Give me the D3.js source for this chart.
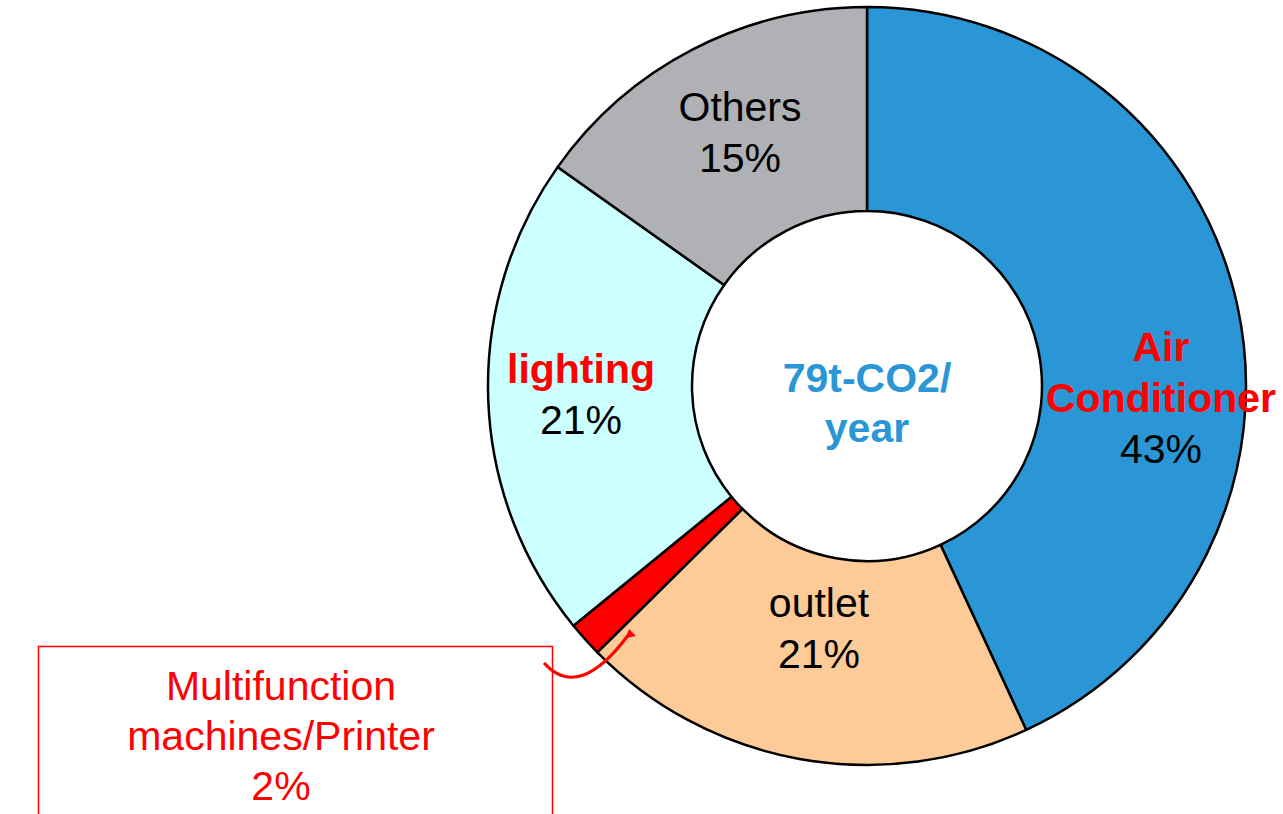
<!DOCTYPE html>
<html>
  <head>
    <meta charset="utf-8">
    <style>
    body { margin: 0; background: #fff; }
    #chart-area svg { display: block; }
    text { font-family: "Liberation Sans", Arial, sans-serif; font-size: 41px; }
    </style>
  </head>
  <body>
    <div id="chart-area"></div>

    <script src="https://d3js.org/d3.v7.min.js"></script>
    <script>
      // slice data, clockwise from 12 o'clock
      const categories = ["Air Conditioner", "outlet", "Multifunction machines/Printer", "lighting", "Others"];
      const shares = [43.1, 19.5, 1.5, 20.7, 15.2];
      const pctLabels = ["43%", "21%", "2%", "21%", "15%"];
      const colors = ["#2a96d5", "#fdcb98", "#ff0000", "#ccffff", "#b0b1b5"];

      const width = 1283;
      const height = 814;
      const cx = 867, cy = 386;
      const outerR = 379, innerR = 175;

      const svg = d3.select("#chart-area")
        .append("svg")
          .attr("width", width)
          .attr("height", height);

      const g = svg.append("g")
        .attr("transform", `translate(${cx}, ${cy})`);

      const pie = d3.pie().value(d => d).sort(null);
      const arc = d3.arc().innerRadius(innerR).outerRadius(outerR);

      g.selectAll("path")
        .data(pie(shares))
        .enter().append("path")
          .attr("d", arc)
          .attr("fill", (d, i) => colors[i])
          .attr("stroke", "#000")
          .attr("stroke-width", 2.5)
          .attr("stroke-linejoin", "round");

      // labels: lines as [text, colour, bold], position relative to centre
      const labelSpec = [
        { lines: [["Air", "red", true], ["Conditioner", "red", true], ["43%", "#000", false]], x: 294, y: -25 },
        { lines: [["outlet", "#000", false], ["21%", "#000", false]], x: -48, y: 231 },
        null,
        { lines: [["lighting", "red", true], ["21%", "#000", false]], x: -286, y: -3 },
        { lines: [["Others", "#000", false], ["15%", "#000", false]], x: -127, y: -265 }
      ];

      labelSpec.forEach((s, i) => {
        if (!s) return;
        const t = g.append("text").attr("text-anchor", "middle");
        s.lines.forEach((l, k) => {
          t.append("tspan")
            .attr("x", s.x)
            .attr("y", s.y + k * 51)
            .attr("fill", l[1])
            .attr("font-weight", l[2] ? "bold" : "normal")
            .text(k === s.lines.length - 1 ? pctLabels[i] : l[0]);
        });
      });

      // centre total
      const centre = g.append("text")
        .attr("text-anchor", "middle")
        .attr("fill", "#2a96d5")
        .attr("font-weight", "bold");
      centre.append("tspan").attr("x", 0).attr("y", 6).text("79t-CO2/");
      centre.append("tspan").attr("x", 0).attr("y", 56).text("year");

      // callout box for the small slice
      svg.append("rect")
        .attr("x", 38.5).attr("y", 646.5)
        .attr("width", 514).attr("height", 200)
        .attr("fill", "none")
        .attr("stroke", "red")
        .attr("stroke-width", 1.5);

      const box = svg.append("text")
        .attr("text-anchor", "middle")
        .attr("fill", "red");
      ["Multifunction", "machines/Printer", pctLabels[2]].forEach((l, k) => {
        box.append("tspan").attr("x", 281).attr("y", 700 + k * 50).text(l);
      });

      // curved pointer into the red slice
      svg.append("path")
        .attr("d", "M544,663 Q579,702 629,634")
        .attr("fill", "none")
        .attr("stroke", "red")
        .attr("stroke-width", 3);
      svg.append("path")
        .attr("d", "M629,629 L636,636 L626,638 Z")
        .attr("fill", "red")
        .attr("stroke", "none");
    </script>
  </body>
</html>
